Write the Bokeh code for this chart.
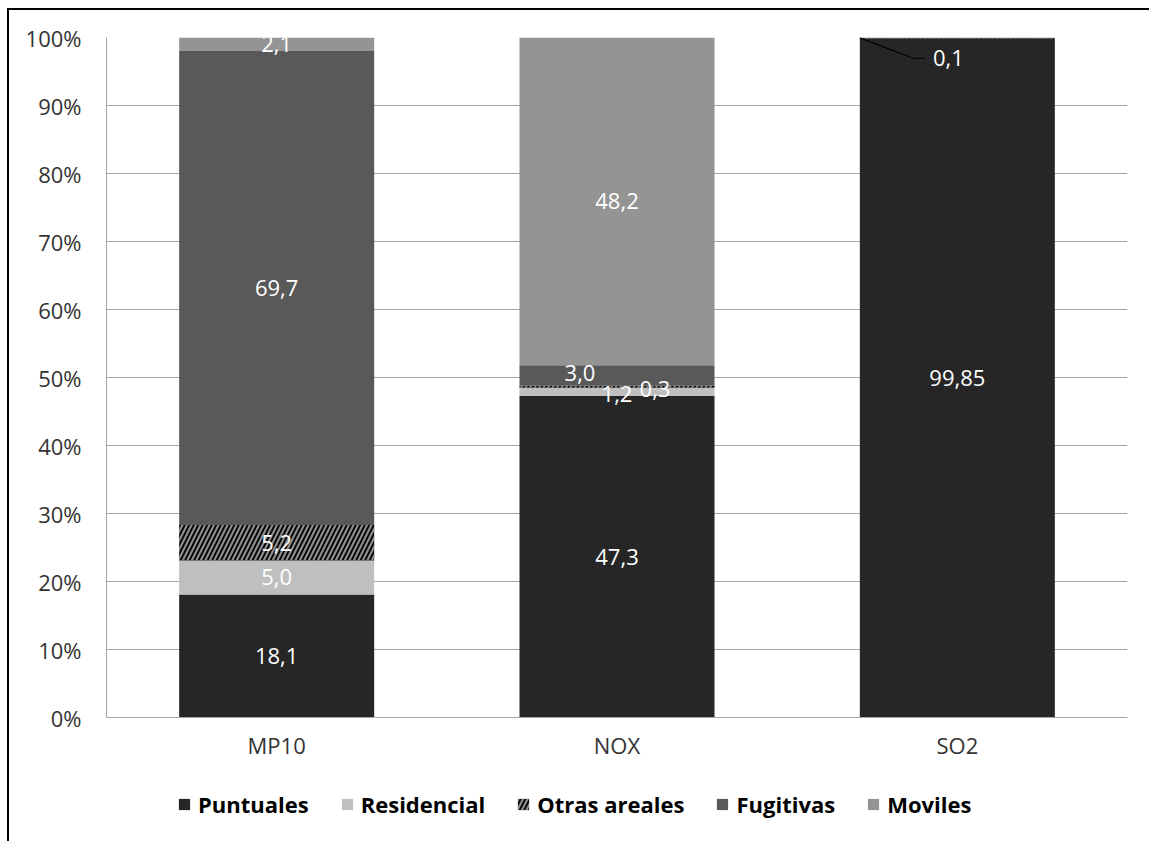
from bokeh.plotting import figure
from bokeh.layouts import column
from bokeh.models import ColumnDataSource, Range1d, FixedTicker, Legend, LegendItem
from bokeh.core.properties import value
from bokeh.embed import file_html
from bokeh.resources import INLINE
import numpy as np

categories = ["MP10", "NOX", "SO2"]
series = ["Puntuales", "Residencial", "Otras areales", "Fugitivas", "Moviles"]
puntuales = [18.1, 47.3, 99.85]
residencial = [5.0, 1.2, 0.0]
otras_areales = [5.2, 0.3, 0.1]
fugitivas = [69.7, 3.0, 0.0]
moviles = [2.1, 48.2, 0.0]
y_ticks = [0, 10, 20, 30, 40, 50, 60, 70, 80, 90, 100]
y_tick_labels = ["0%", "10%", "20%", "30%", "40%", "50%", "60%", "70%", "80%", "90%", "100%"]

values = [puntuales, residencial, otras_areales, fugitivas, moviles]
colors = ["#262626", "#bfbfbf", "#000000", "#595959", "#949494"]
FONT = value("Open Sans")
BW = 0.573
HATCH = dict(hatch_pattern="/", hatch_color="#8c8c8c", hatch_scale=9, hatch_weight=2.2)

p = figure(frame_width=1021, frame_height=680, x_range=Range1d(0, 3), y_range=Range1d(0, 100),
           output_backend="svg", toolbar_location=None,
           min_border_left=97, min_border_right=24, min_border_top=27, min_border_bottom=0)
p.outline_line_color = None
p.background_fill_color = "white"

xc = np.arange(len(categories)) + 0.5
cum = np.zeros(len(categories))
lab_x, lab_y, lab_t, lab_xo, lab_yo = [], [], [], [], []
# label nudges (pixels) for crowded segments: (category index, series index) -> (dx, dy)
nudges = {(1, 1): (0, 2), (1, 2): (38, 2), (1, 3): (-37, -2)}
for si, (name, vals) in enumerate(zip(series, values)):
    vals = np.array(vals, dtype=float)
    bottom = cum.copy()
    top = cum + vals
    src = ColumnDataSource(dict(x=xc, bottom=bottom, top=top))
    kw = HATCH if name == "Otras areales" else {}
    p.vbar(x="x", width=BW, bottom="bottom", top="top", source=src,
           fill_color=colors[si], line_color=None, **kw)
    for ci, v in enumerate(vals):
        if v <= 0:
            continue
        if ci == 2 and name == "Otras areales":
            continue
        dx, dy = nudges.get((ci, si), (0, 0))
        lab_x.append(xc[ci])
        lab_y.append(min((bottom[ci] + top[ci]) / 2, 100))
        lab_t.append(repr(float(v)).replace(".", ","))
        lab_xo.append(dx)
        lab_yo.append(dy)
    cum = top

lab_src = ColumnDataSource(dict(x=lab_x, y=lab_y, t=lab_t, xo=lab_xo, yo=lab_yo))
p.text(x="x", y="y", text="t", x_offset="xo", y_offset="yo", source=lab_src,
       text_color="white", text_font=FONT, text_font_size="22px",
       text_align="center", text_baseline="middle")

# leader label for SO2 Otras areales
so2 = 2
so2_top = min(cum[so2], 100)
lx = [xc[so2] - BW / 2, xc[so2] - 0.13, xc[so2] - 0.095]
ly = [so2_top, so2_top - 3.0, so2_top - 3.0]
p.line(x=lx, y=ly, line_color="black", line_width=1.2)
p.text(x=[xc[so2] - 0.095], y=[so2_top - 3.0], text=[repr(otras_areales[so2]).replace(".", ",")],
       x_offset=8, text_color="white", text_font=FONT, text_font_size="22px",
       text_align="left", text_baseline="middle")

# axes
p.xgrid.visible = False
p.ygrid.grid_line_color = "#a6a6a6"
p.ygrid.grid_line_width = 1
p.yaxis.ticker = FixedTicker(ticks=y_ticks)
p.yaxis.major_label_overrides = {t: l for t, l in zip(y_ticks, y_tick_labels)}
p.xaxis.ticker = FixedTicker(ticks=list(xc))
p.xaxis.major_label_overrides = {float(x): c for x, c in zip(xc, categories)}
for ax in (p.xaxis, p.yaxis):
    ax.axis_line_color = "#a6a6a6"
    ax.major_tick_line_color = None
    ax.minor_tick_line_color = None
    ax.major_label_text_font = "Open Sans"
    ax.major_label_text_font_size = "22px"
    ax.major_label_text_color = "#333333"
p.yaxis.major_label_standoff = 19
p.xaxis.major_label_standoff = 6

# legend strip below the chart (swatch renderers sit outside its visible range)
q = figure(width=1142, height=85, x_range=Range1d(0, 1), y_range=Range1d(0, 1),
           output_backend="svg", toolbar_location=None, x_axis_type=None, y_axis_type=None,
           min_border=0)
q.outline_line_color = None
q.xgrid.visible = False
q.ygrid.visible = False
items = []
for si, name in enumerate(series):
    kw = HATCH if name == "Otras areales" else {}
    r = q.vbar(x=[-5], top=[-5], bottom=[-6], width=0.1, fill_color=colors[si], line_color=None, **kw)
    items.append(LegendItem(label=name, renderers=[r]))
legend = Legend(items=items, orientation="horizontal", location=(71, 28),
                label_text_font="Open Sans", label_text_font_style="bold",
                label_text_font_size="22px", label_text_color="#000000",
                glyph_width=14, glyph_height=14, label_standoff=7, spacing=31,
                padding=0, margin=0,
                border_line_color=None, background_fill_alpha=0)
q.add_layout(legend, "center")

layout = column(p, q, margin=(8, 0, 0, 7))
layout.styles = {"border-top": "2px solid black", "border-left": "2px solid black"}

open("out.html", "w").write(file_html(layout, INLINE))
